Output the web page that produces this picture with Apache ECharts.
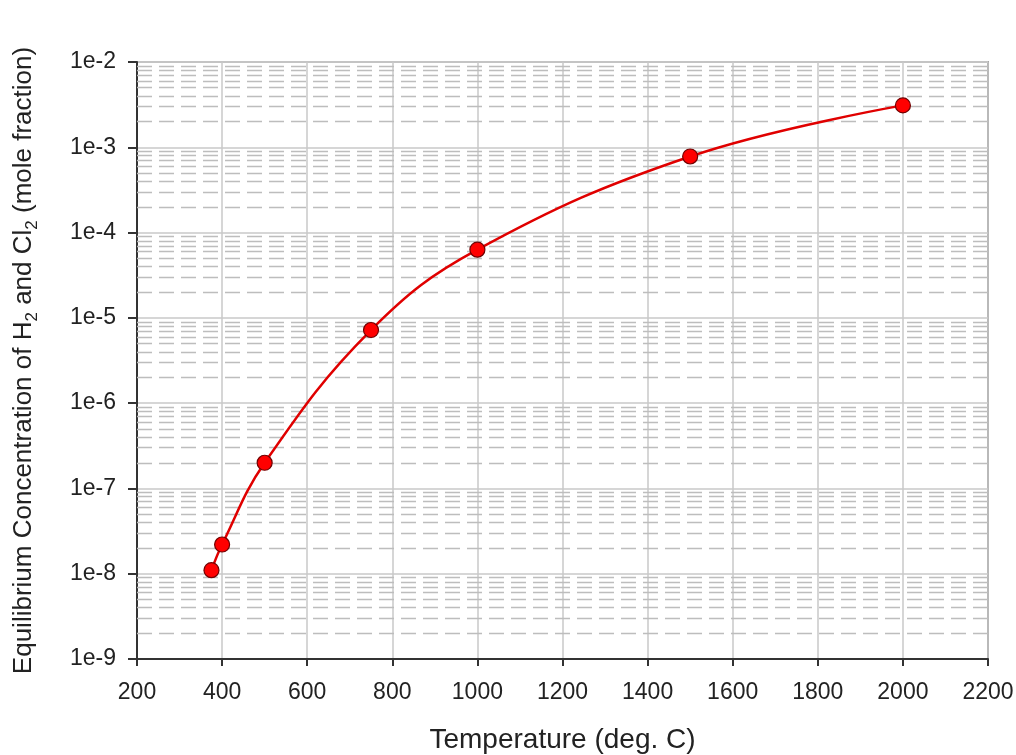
<!DOCTYPE html>
<html>
<head>
<meta charset="utf-8">
<script src="https://cdn.jsdelivr.net/npm/echarts@6/dist/echarts.min.js"></script>
<style>html,body{margin:0;padding:0;background:#fff;}#c{width:1016px;height:755px;}</style>
</head>
<body>
<div id="c"></div>
<script>
// Data
var temperature = [375, 400, 500, 750, 1000, 1500, 2000];
var concentration = [1.1e-8, 2.2e-8, 2.0e-7, 7.2e-6, 6.3e-5, 7.8e-4, 3.1e-3];
var xMin = 200, xMax = 2200, xStep = 200;
var yMinExp = -9, yMaxExp = -2;
var minorMultipliers = [2, 3, 4, 5, 6, 7, 8, 9];

var minorLines = [];
for (var e = yMinExp; e < yMaxExp; e++) {
  for (var i = 0; i < minorMultipliers.length; i++) {
    var v = minorMultipliers[i] * Math.pow(10, e);
    minorLines.push({ coords: [[xMin, v], [xMax, v]] });
  }
}
var points = temperature.map(function (t, k) { return [t, concentration[k]]; });

var chart = echarts.init(document.getElementById('c'));
var font = '"Liberation Sans", Arial, sans-serif';
chart.setOption({
  animation: false,
  grid: { left: 137, right: 28, top: 62, bottom: 96, outerBoundsMode: 'none', containLabel: false,
    show: true, borderColor: '#666', borderWidth: 1.5, backgroundColor: '#fff' },
  xAxis: {
    type: 'value', min: xMin, max: xMax, interval: xStep,
    name: 'Temperature (deg. C)', nameLocation: 'middle', nameGap: 67,
    nameTextStyle: { fontFamily: font, fontSize: 28, color: '#222' },
    axisLine: { lineStyle: { color: '#333', width: 2 } },
    axisTick: { show: true, length: 7, lineStyle: { color: '#333', width: 2 } },
    axisLabel: { fontFamily: font, fontSize: 23, color: '#222', margin: 22,
      formatter: function (v) { return String(v); } },
    splitLine: { show: true, lineStyle: { color: '#c8c8c8', width: 1.5 } }
  },
  yAxis: {
    type: 'log', logBase: 10, min: Math.pow(10, yMinExp), max: Math.pow(10, yMaxExp),
    name: '{a|Equilibrium Concentration of H}{s|2}{a| and Cl}{s|2}{a| (mole fraction)}',
    nameLocation: 'middle', nameGap: 96,
    nameTextStyle: {
      fontFamily: font, fontSize: 26, color: '#222',
      rich: {
        a: { fontFamily: font, fontSize: 26, color: '#222', lineHeight: 34, verticalAlign: 'middle' },
        s: { fontFamily: font, fontSize: 17, color: '#222', lineHeight: 17, verticalAlign: 'bottom' }
      }
    },
    axisLine: { show: true, lineStyle: { color: '#333', width: 2 } },
    axisTick: { show: true, length: 9, lineStyle: { color: '#333', width: 2 } },
    axisLabel: {
      fontFamily: font, fontSize: 23, color: '#222', margin: 21,
      formatter: function (v) { return '1e' + Math.round(Math.log10(v)); }
    },
    splitLine: { show: true, lineStyle: { color: '#c8c8c8', width: 1.5 } }
  },
  series: [
    {
      type: 'lines', coordinateSystem: 'cartesian2d', z: 1, silent: true,
      lineStyle: { color: '#bdbdbd', type: [15, 7], width: 1.3, opacity: 1, curveness: 0 },
      data: minorLines
    },
    {
      type: 'line', z: 5,
      data: points,
      smooth: 0.4,
      lineStyle: { color: '#e00000', width: 2.5 },
      symbol: 'circle', symbolSize: 15,
      itemStyle: { color: '#ff0000', borderColor: '#700000', borderWidth: 1.2 }
    }
  ]
});
</script>
</body>
</html>
